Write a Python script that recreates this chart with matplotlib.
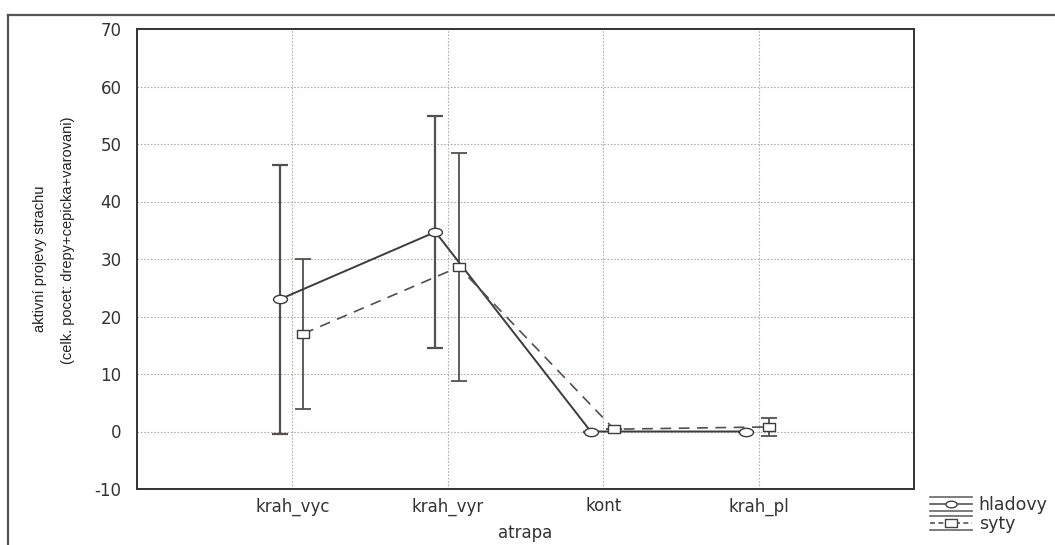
import matplotlib
matplotlib.use("Agg")
import matplotlib.pyplot as plt
import numpy as np
from matplotlib.path import Path
from matplotlib.transforms import Affine2D
from matplotlib.lines import Line2D
from matplotlib.legend_handler import HandlerBase

categories = ['krah_vyc', 'krah_vyr', 'kont', 'krah_pl']
hladovy_mean = [23.0, 34.7, 0.0, 0.0]
hladovy_err = [23.4, 20.2, 0.0, 0.0]
syty_mean = [17.0, 28.6, 0.4, 0.8]
syty_err = [13.0, 19.9, 0.0, 1.6]
series_names = ['hladovy', 'syty']
yticks = [-10, 0, 10, 20, 30, 40, 50, 60, 70]

plt.rcParams['font.family'] = ['DejaVu Sans']
plt.rcParams['axes.unicode_minus'] = False

ellipse = Path.unit_circle().transformed(Affine2D().scale(1.0, 0.6))
rect = Path([(-1, -0.7), (1, -0.7), (1, 0.7), (-1, 0.7), (-1, -0.7)],
            [Path.MOVETO, Path.LINETO, Path.LINETO, Path.LINETO, Path.CLOSEPOLY])

W, H = 1055, 545
fig = plt.figure(figsize=(W / 100, H / 100), dpi=100)
ax = fig.add_axes([137 / W, 1 - 489 / H, (914 - 137) / W, (489 - 29) / H])

x = np.arange(len(categories))
line_col = '#3c3c3c'
err_col = '#555050'

ax.errorbar(x - 0.08, hladovy_mean, yerr=hladovy_err, fmt='none', ecolor=err_col,
            elinewidth=1.6, capsize=5.8, capthick=1.6, zorder=3)
ax.errorbar(x + 0.07, syty_mean, yerr=syty_err, fmt='none', ecolor=err_col,
            elinewidth=1.3, capsize=5.8, capthick=1.3, zorder=3)
ax.plot(x - 0.08, hladovy_mean, color=line_col, lw=1.4, ls='-', marker=ellipse,
        markersize=10, markerfacecolor='white', markeredgecolor=line_col,
        markeredgewidth=1.0, zorder=4)
ax.plot(x + 0.07, syty_mean, color='#505050', lw=1.2, ls=(0, (6.5, 4.5)), marker=rect,
        markersize=8.5, markerfacecolor='white', markeredgecolor=line_col,
        markeredgewidth=1.0, zorder=4)

ax.set_xlim(-1, 4)
ax.set_ylim(-10, 70)
ax.set_yticks(yticks)
ax.set_xticks(x)
ax.set_xticklabels(categories)
ax.tick_params(axis='both', length=0, labelsize=12, colors='#333333')
ax.tick_params(axis='x', pad=6)
ax.tick_params(axis='y', pad=11)
ax.grid(True, color='#b8acac', linestyle=(0, (1.5, 1.5)), linewidth=0.8)
ax.set_axisbelow(True)
for s in ax.spines.values():
    s.set_color('#333333')
    s.set_linewidth(1.4)

ax.set_xlabel('atrapa', fontsize=12, color='#333333', labelpad=6)

fig.text(40 / W, 1 - 259 / H, 'aktivní projevy strachu', rotation=90,
         ha='center', va='center', fontsize=10.5, family='Liberation Sans', color='#222222')
fig.text(68 / W, 1 - 240 / H, '(celk. pocet: drepy+cepicka+varovani)', rotation=90,
         ha='center', va='center', fontsize=10.5, family='Liberation Sans', color='#222222')

# outer frame (top and left edges visible)
fig.add_artist(Line2D([8 / W, 1], [1 - 15 / H, 1 - 15 / H], transform=fig.transFigure,
                      color='#555555', lw=1.6))
fig.add_artist(Line2D([8 / W, 8 / W], [0, 1 - 15 / H], transform=fig.transFigure,
                      color='#555555', lw=1.6))


class ErrHandler(HandlerBase):
    def __init__(self, marker, ls):
        super().__init__()
        self.marker = marker
        self.ls = ls

    def create_artists(self, legend, orig_handle, xdescent, ydescent, width, height,
                       fontsize, trans):
        arts = []
        cy = height / 2 - ydescent
        for dy in (-0.55 * height, 0.55 * height):
            arts.append(Line2D([0 - xdescent, width - xdescent], [cy + dy, cy + dy],
                               color='#666666', lw=1.2, transform=trans))
        arts.append(Line2D([0 - xdescent, width - xdescent], [cy, cy], color='#555555',
                           lw=1.2, ls=self.ls, transform=trans))
        arts.append(Line2D([width / 2 - xdescent], [cy], marker=self.marker, markersize=8,
                           markerfacecolor='white', markeredgecolor='#444444',
                           markeredgewidth=1.0, ls='none', transform=trans))
        return arts


h1 = Line2D([], [])
h2 = Line2D([], [])
fig.legend([h1, h2], series_names, loc='upper left',
           bbox_to_anchor=(918 / W, 1 - 484 / H), frameon=False, fontsize=12.5,
           handlelength=2.4, handletextpad=0.4, labelspacing=0.05, borderpad=0.2,
           labelcolor='#333333',
           handler_map={h1: ErrHandler(ellipse, '-'), h2: ErrHandler(rect, (0, (3, 2)))})

fig.savefig('out.png', dpi=100)
